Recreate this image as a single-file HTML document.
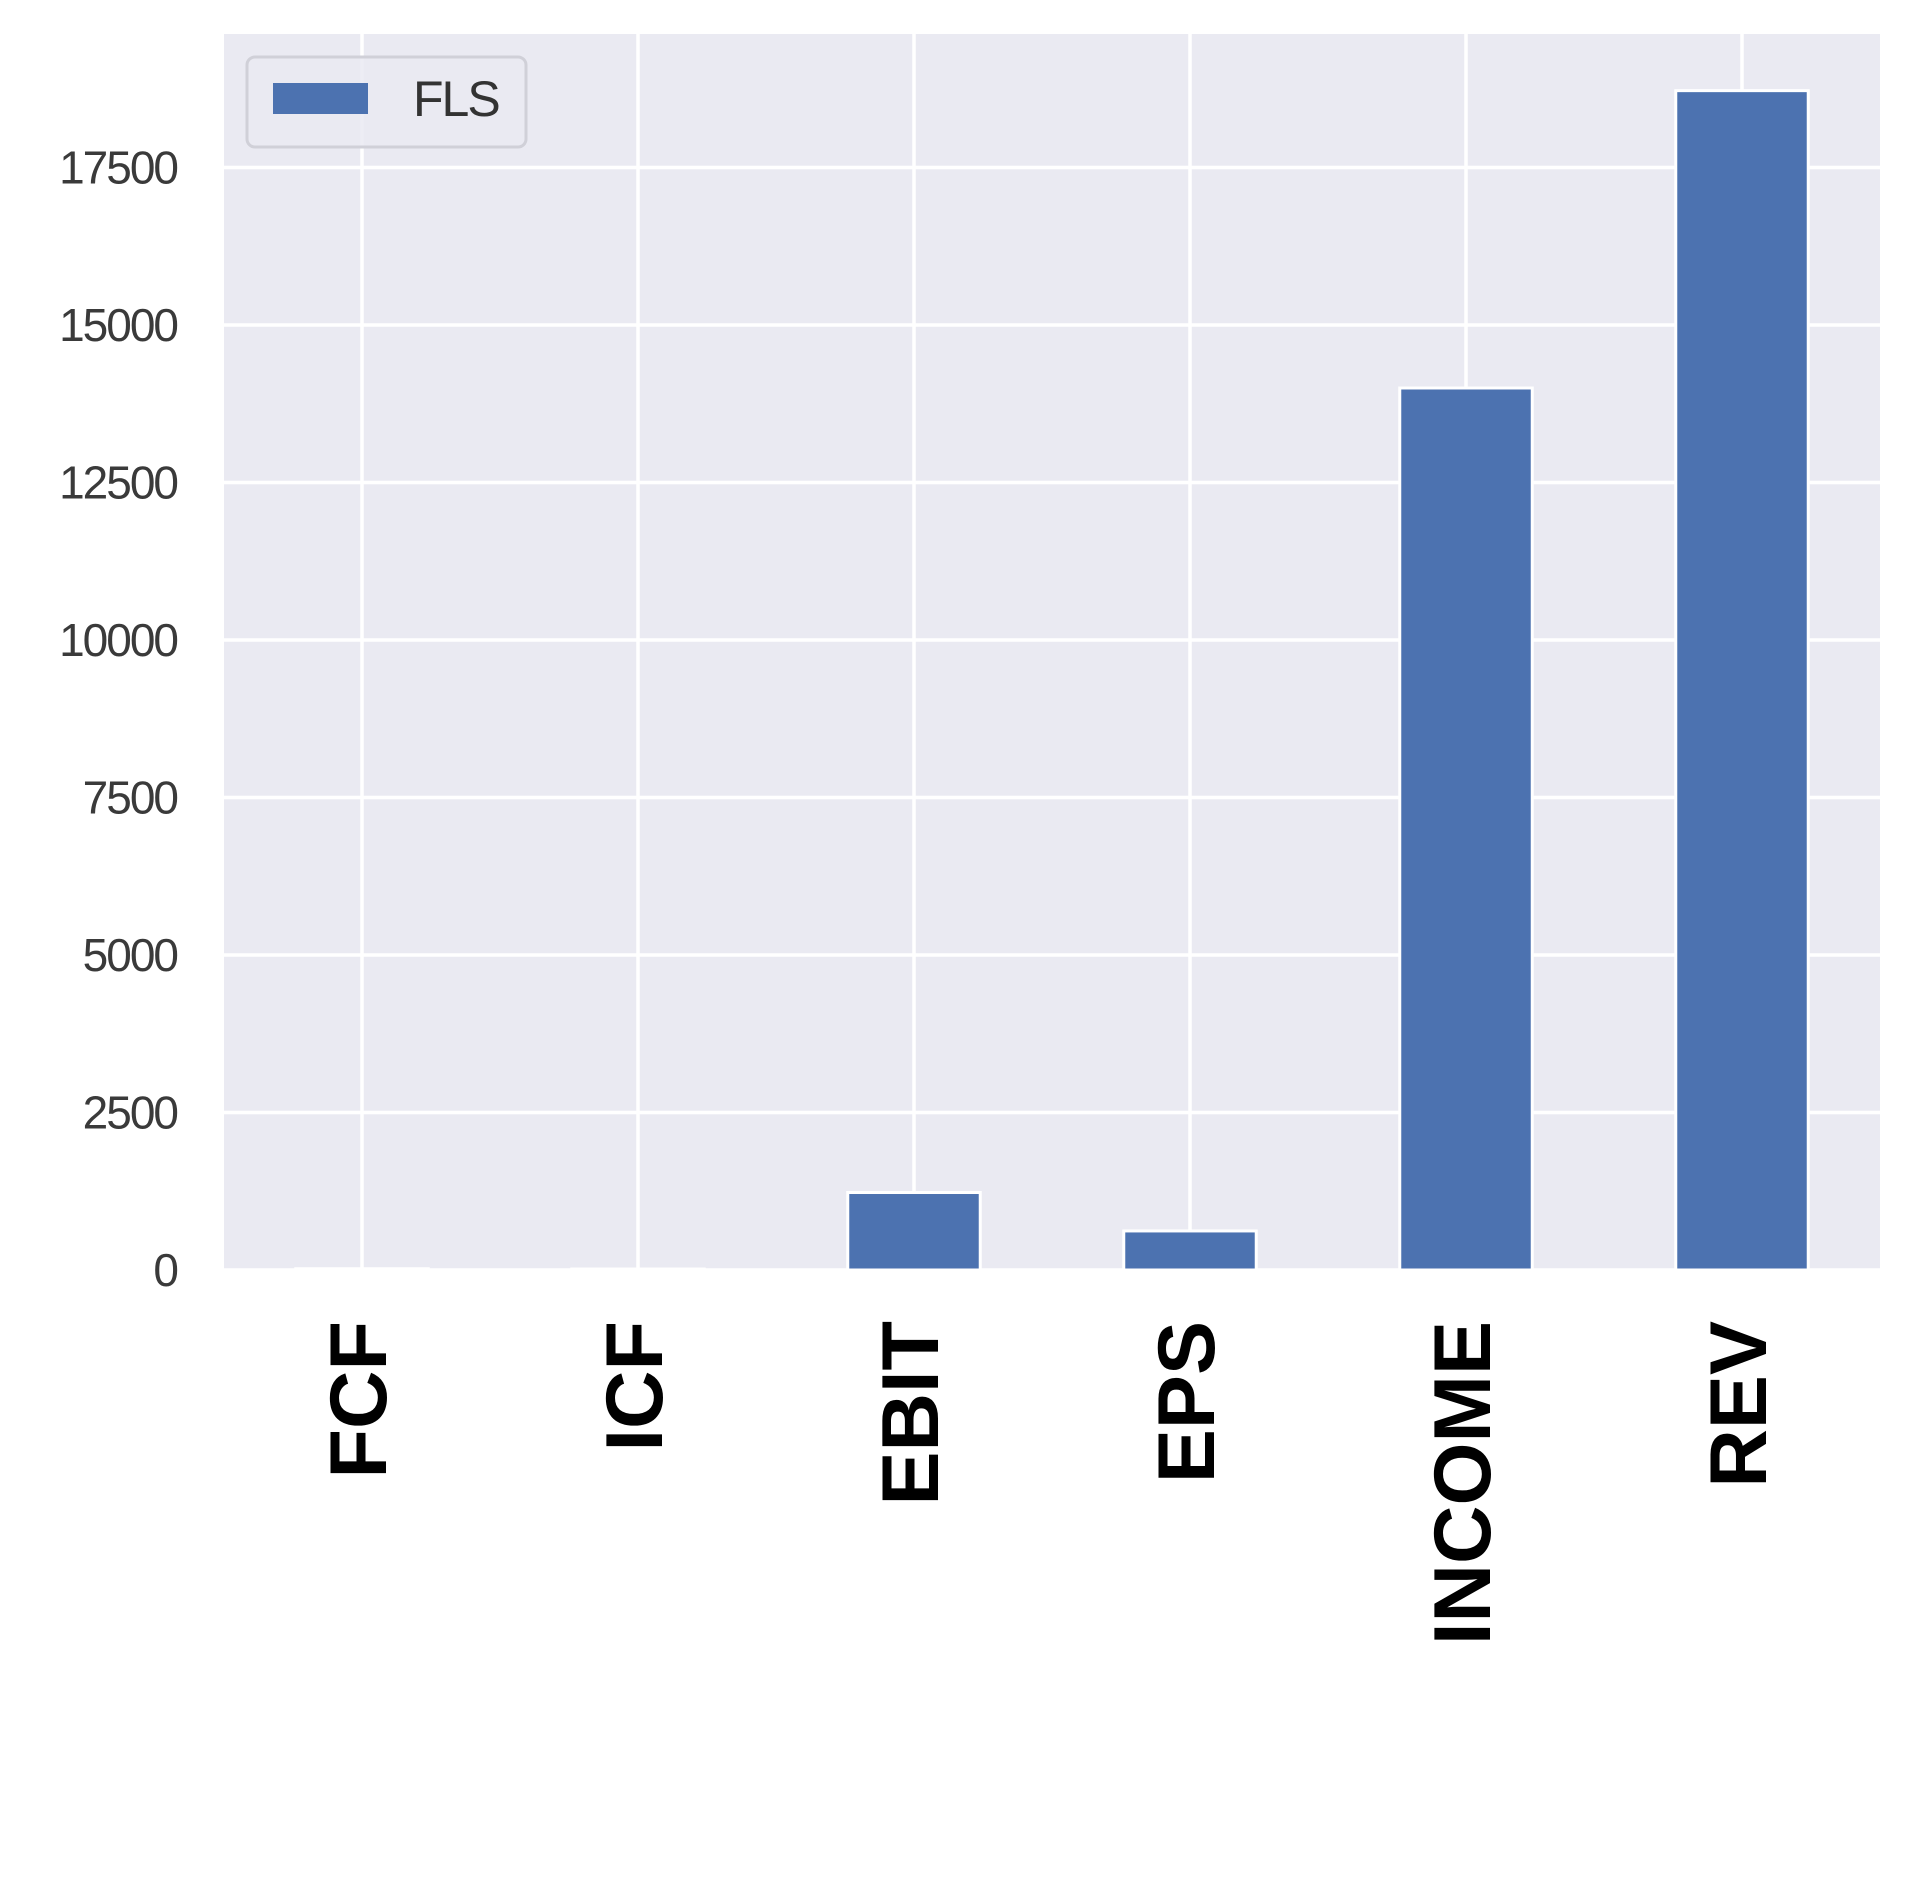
<!DOCTYPE html>
<html><head><meta charset="utf-8"><style>
html,body{margin:0;padding:0;background:#fff;}
svg{display:block;}
</style></head><body>
<svg id="chart" width="1911" height="1897" xmlns="http://www.w3.org/2000/svg"></svg>
<script>
const categories = ["FCF","ICF","EBIT","EPS","INCOME","REV"];
const values = [20, 15, 1230, 620, 14000, 18720];
const yTicks = [0,2500,5000,7500,10000,12500,15000,17500];
const seriesName = "FLS";

const NS = "http://www.w3.org/2000/svg";
const svg = document.getElementById("chart");
const L = 224, R = 1880, T = 34, B = 1270;
const step = (R - L) / categories.length;
const yPerUnit = 157.5 / 2500;
function x(i){ return L + step * (i + 0.5); }
function y(v){ return B - v * yPerUnit; }
function mk(tag, attrs){ const e = document.createElementNS(NS, tag); for (const k in attrs) e.setAttribute(k, attrs[k]); svg.appendChild(e); return e; }

const bg = mk("rect", {x:L, y:T, width:R-L, height:B-T, fill:"#eaeaf2"});



yTicks.forEach(t => {
  const g = mk("line", {x1:L, x2:R, y1:y(t), y2:y(t), stroke:"#fff", "stroke-width":3.5});
  
  
  const lb = mk("text", {x:177, y:y(t)+16, "text-anchor":"end", "font-family":"Liberation Sans, sans-serif", "font-size":46, "letter-spacing":"-2", fill:"#3a3a3a"});
  lb.textContent = t;
  
  
});
categories.forEach((c, i) => {
  const g = mk("line", {x1:x(i), x2:x(i), y1:T, y2:B, stroke:"#fff", "stroke-width":3.5});
  
  
});
const bw = step * 0.48;
categories.forEach((c, i) => {
  const v = values[i];
  const b = mk("rect", {x:x(i)-bw/2, y:y(v), width:bw, height:Math.max(B-y(v),0), fill:"#4c72b0", stroke:"#fff", "stroke-width":3});
  
  
  const cx = x(i) + 24, ty = 1321;
  const lb = mk("text", {x:cx, y:ty, transform:`rotate(-90 ${cx} ${ty})`, "text-anchor":"end", "font-family":"Liberation Sans, sans-serif", "font-weight":"bold", "font-size":81, fill:"#000"});
  lb.textContent = c;
  
  
});
const lg = mk("rect", {x:247, y:57, width:279, height:90, rx:8, fill:"#eaeaf2", stroke:"#d0d0d8", "stroke-width":3, "fill-opacity":0.85});


const lp = mk("rect", {x:273, y:83, width:95, height:31, fill:"#4c72b0"});


const lt = mk("text", {x:413, y:116, "font-family":"Liberation Sans, sans-serif", "font-size":50, "letter-spacing":"-2", fill:"#333"});
lt.textContent = seriesName;


</script>
</body></html>
